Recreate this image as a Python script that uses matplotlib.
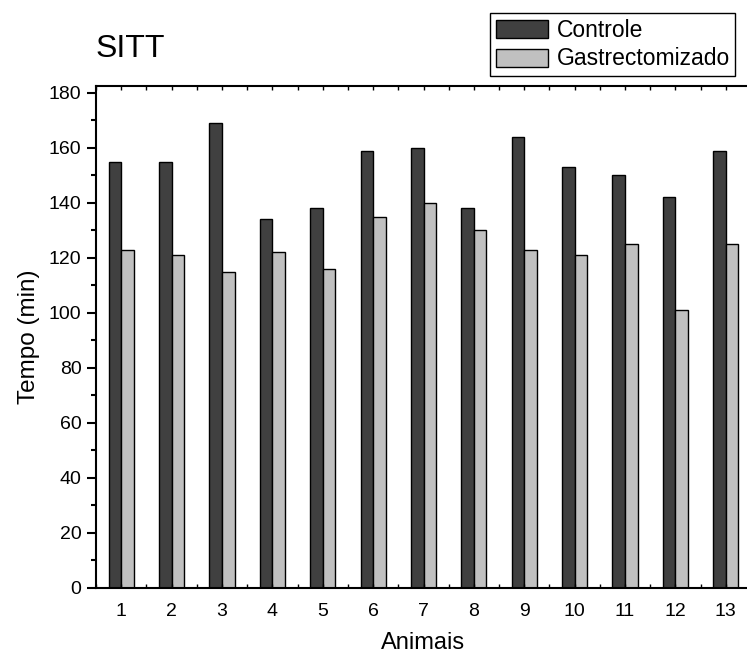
import numpy as np
import matplotlib
matplotlib.use("Agg")
import matplotlib.pyplot as plt
from matplotlib.ticker import MultipleLocator

# valores
animais = list(range(1, 14))
controle = [155, 155, 169, 134, 138, 159, 160, 138, 164, 153, 150, 142, 159]
gastro = [123, 121, 115, 122, 116, 135, 140, 130, 123, 121, 125, 101, 125]

plt.rcParams['font.family'] = ['Liberation Sans', 'DejaVu Sans']

W, H = 747, 654
fig = plt.figure(figsize=(W/100, H/100), dpi=100)
# eixo vai alem da borda direita (cortado como na figura original)
l, r, b, t = 96, 751, 588, 86
ax = fig.add_axes([l/W, 1-b/H, (r-l)/W, (b-t)/H])

x = np.array(animais)
w = 0.25
ax.bar(x - w/2, controle, w, color='#404040', edgecolor='black', lw=1, label='Controle')
ax.bar(x + w/2, gastro, w, color='#c0c0c0', edgecolor='black', lw=1, label='Gastrectomizado')

ax.set_xlim(0.5, 13.5)
ax.set_ylim(0, 182.5)
ax.set_xticks(animais)
ax.xaxis.set_minor_locator(MultipleLocator(0.5))
ax.yaxis.set_major_locator(MultipleLocator(20))
ax.yaxis.set_minor_locator(MultipleLocator(10))

for s in ax.spines.values():
    s.set_linewidth(1.5)
ax.tick_params(axis='y', which='major', direction='out', length=6.5, width=1.5, labelsize=14, pad=4)
ax.tick_params(axis='y', which='minor', direction='out', length=3.5, width=1.5)
ax.tick_params(axis='x', which='both', direction='in', length=3, width=1, top=True, labelsize=14, pad=11)

ax.set_ylabel('Tempo (min)', fontsize=17.5, labelpad=6)
ax.set_xlabel('Animais', fontsize=17, labelpad=8.5)
fig.text(96/W, 1-57/H, 'SITT', fontsize=23, ha='left', va='baseline')

leg = fig.legend(loc='upper left', bbox_to_anchor=(490/W, 1-13/H), fontsize=16.5,
                 frameon=True, fancybox=False, edgecolor='black', framealpha=1,
                 handlelength=2.3, handleheight=0.83, handletextpad=0.35,
                 borderpad=0.25, labelspacing=0.25, borderaxespad=0)
leg.get_frame().set_linewidth(1)

fig.savefig('out.png', dpi=100)
